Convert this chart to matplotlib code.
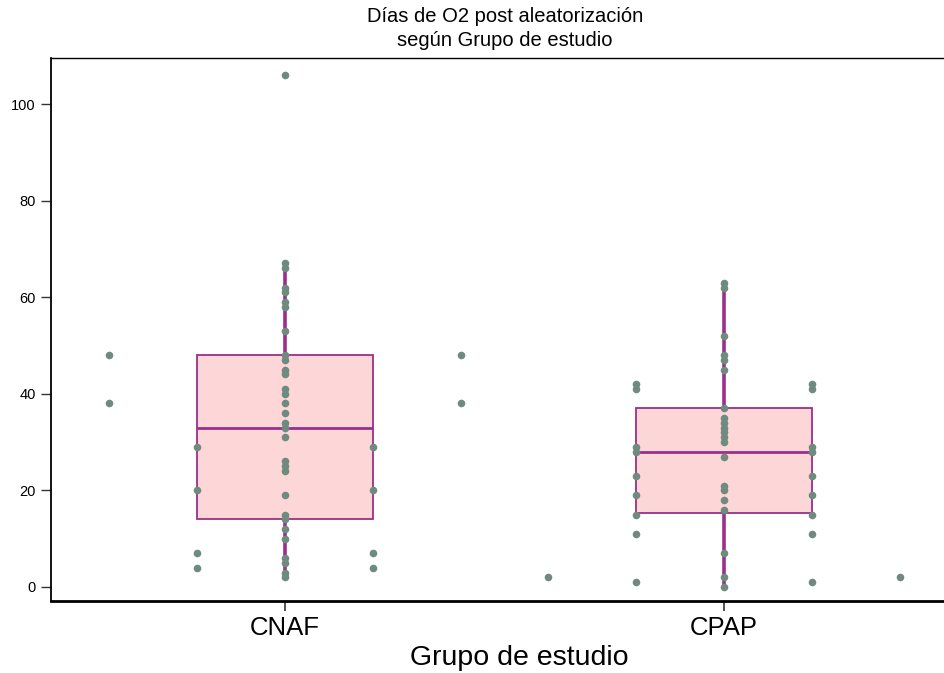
import matplotlib
matplotlib.use("Agg")
import matplotlib.pyplot as plt

plt.rcParams['font.family'] = ['Liberation Sans', 'DejaVu Sans']

# ---- data ----
categories = ["CNAF", "CPAP"]
cat_pos = [1, 2]

cnaf_center = [106, 67, 66, 62, 61, 59, 58, 53, 48, 47, 45, 44, 41, 40, 38, 36,
               34, 33, 31, 26, 25, 24, 19, 15, 14, 12, 10, 6, 5, 3, 2]
cnaf_side = [29, 20, 7, 4]
cnaf_outer = [48, 38]

cpap_center = [63, 62, 52, 48, 47, 45, 37, 35, 34, 33, 32, 31, 30, 27, 21, 20,
               18, 16, 7, 2, 0]
cpap_side = [42, 41, 29, 28, 23, 19, 15, 11, 1]
cpap_outer = [2]

# box statistics (q1, median, q3, whisker low, whisker high)
cnaf_stats = dict(q1=14, med=33, q3=48, whislo=2, whishi=67)
cpap_stats = dict(q1=15.3, med=28, q3=37, whislo=0, whishi=63)

yticks = [0, 20, 40, 60, 80, 100]

title_lines = ["Días de O2 post aleatorización", "según Grupo de estudio"]
xlabel = "Grupo de estudio"

# ---- style ----
pt_color = "#6F8B80"
box_fill = "#FDD6D7"
box_edge = "#9A2F8C"
side_off = 0.2
outer_off = 0.4

W, H = 944, 673
fig = plt.figure(figsize=(W / 100, H / 100), dpi=100)
ax = fig.add_axes([51 / W, 72 / H, (W - 51) / W, (601 - 58) / H])

stats = []
for s, lab in zip([cnaf_stats, cpap_stats], categories):
    d = dict(s)
    d['label'] = lab
    d['fliers'] = []
    stats.append(d)

ax.bxp(stats, positions=cat_pos, widths=2 * side_off, patch_artist=True,
       showfliers=False, showcaps=False,
       boxprops=dict(facecolor=box_fill, edgecolor=box_edge, linewidth=1.3),
       medianprops=dict(color=box_edge, linewidth=2.0),
       whiskerprops=dict(color=box_edge, linewidth=2.6), zorder=2)

ms = 30
for pos, center, side, outer in [(1, cnaf_center, cnaf_side, cnaf_outer),
                                 (2, cpap_center, cpap_side, cpap_outer)]:
    ax.scatter([pos] * len(center), center, s=ms, color=pt_color, zorder=3, linewidths=0)
    for sgn in (-1, 1):
        ax.scatter([pos + sgn * side_off] * len(side), side, s=ms, color=pt_color,
                   zorder=3, linewidths=0)
        ax.scatter([pos + sgn * outer_off] * len(outer), outer, s=ms, color=pt_color,
                   zorder=3, linewidths=0)

ax.set_xlim(1 + (51 - 285) / 439, 1 + (944 - 285) / 439)
ax.set_ylim((587 - 601) / 4.83, (587 - 58) / 4.83)

ax.set_yticks(yticks)
ax.set_yticklabels([str(v) for v in yticks], fontsize=10.5)
ax.set_xticks(cat_pos)
ax.set_xticklabels(categories, fontsize=18.5)
ax.tick_params(axis='y', length=7, width=1.0, pad=4, color='#333333')
ax.tick_params(axis='x', length=7, width=1.2, pad=4, color='#333333')

ax.spines['right'].set_visible(False)
ax.spines['top'].set_linewidth(1.0)
ax.spines['left'].set_linewidth(1.3)
ax.spines['bottom'].set_linewidth(2.0)

fig.text(505 / W, 1 - 16 / H, title_lines[0], ha='center', va='center', fontsize=14.5)
fig.text(505 / W, 1 - 40 / H, title_lines[1], ha='center', va='center', fontsize=14.5)
fig.text(519 / W, 1 - 658 / H, xlabel, ha='center', va='center', fontsize=20.5)

fig.savefig("out.png", dpi=100)
